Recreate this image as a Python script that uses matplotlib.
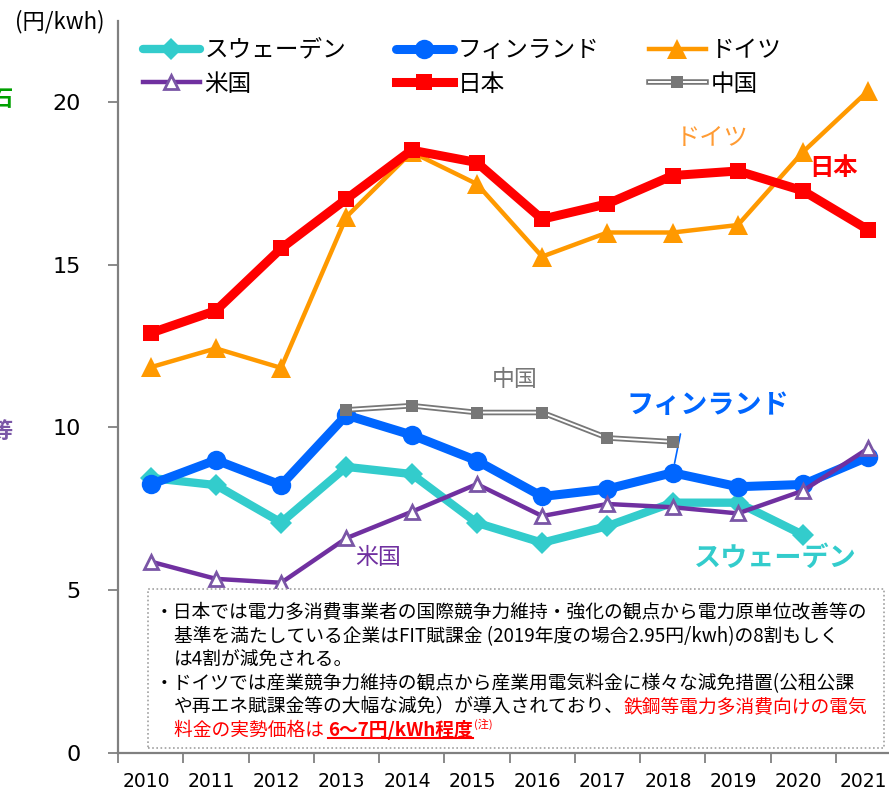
import matplotlib.pyplot as plt
import matplotlib.patches as mpatches
from matplotlib.lines import Line2D
import numpy as np

plt.rcParams['font.family'] = ['Noto Sans CJK JP', 'DejaVu Sans']

years = ['2010', '2011', '2012', '2013', '2014', '2015',
         '2016', '2017', '2018', '2019', '2020', '2021']
nan = np.nan
sweden = [8.45, 8.23, 7.08, 8.79, 8.57, 7.07, 6.46, 6.97, 7.69, 7.69, 6.7, nan]
finland = [8.25, 9.0, 8.23, 10.38, 9.77, 8.98, 7.88, 8.11, 8.61, 8.18, 8.25, 9.1]
germany = [11.85, 12.43, 11.83, 16.47, 18.46, 17.48, 15.25, 15.99, 15.99, 16.22, 18.47, 20.35]
usa = [5.88, 5.35, 5.23, 6.6, 7.41, 8.26, 7.28, 7.65, 7.55, 7.36, 8.06, 9.36]
japan = [12.9, 13.59, 15.5, 17.02, 18.52, 18.14, 16.4, 16.87, 17.74, 17.88, 17.27, 16.07]
china = [nan, nan, nan, 10.54, 10.67, 10.46, 10.46, 9.68, 9.56, nan, nan, nan]

C_SWE = '#33CCCC'
C_FIN = '#0066FF'
C_GER = '#FF9900'
C_USA = '#7030A0'
C_JPN = '#FF0000'
C_CHN = '#777777'

W, H = 889, 795
fig = plt.figure(figsize=(W / 100, H / 100), dpi=100)
# axis runs from x=118px to past the right edge (cropped like the original)
ax = fig.add_axes([118 / W, 42 / H, 783 / W, 732.4 / H])

x = np.arange(len(years))

l_ger, = ax.plot(x, germany, color=C_GER, lw=3.2, marker='^', ms=14, mew=0, zorder=3)
l_jpn, = ax.plot(x, japan, color=C_JPN, lw=6.5, marker='s', ms=11, mew=0, zorder=4)
l_swe, = ax.plot(x, sweden, color=C_SWE, lw=6, marker='D', ms=11, mew=0,
                 solid_capstyle='round', zorder=5)
l_fin, = ax.plot(x, finland, color=C_FIN, lw=6.5, marker='o', ms=14, mew=0,
                 solid_capstyle='round', zorder=6)
l_usa, = ax.plot(x, usa, color=C_USA, lw=3.2, marker='^', ms=10, mfc='white',
                 mec='#7A56A6', mew=2, zorder=7)
l_chn_o, = ax.plot(x, china, color=C_CHN, lw=4, zorder=8)
l_chn_i, = ax.plot(x, china, color='white', lw=1.4, zorder=8)
l_chn_m, = ax.plot(x, china, color=C_CHN, lw=0, marker='s', ms=9, mew=0, zorder=9)

ax.set_xlim(-0.5, len(years) - 0.5)
ax.set_ylim(0, 22.5)
ax.set_yticks([0, 5, 10, 15, 20])
ax.set_xticks(np.arange(len(years) + 1) - 0.5)
ax.set_xticklabels([])
# year labels sit a hair left of the category centre, as in the original
ax.set_xticks(x - 0.07, minor=True)
ax.set_xticklabels(years, minor=True, family='DejaVu Sans', fontsize=13.5)
ax.tick_params(axis='x', which='minor', length=0, pad=14)
ax.tick_params(axis='x', which='major', length=7, color='#808080', width=1.3)
ax.tick_params(axis='y', length=7, color='#808080', width=1.3, pad=20)
for lab in ax.get_yticklabels():
    lab.set_family('DejaVu Sans')
    lab.set_fontsize(16)
for s in ['top', 'right']:
    ax.spines[s].set_visible(False)
for s in ['left', 'bottom']:
    ax.spines[s].set_color('#808080')
    ax.spines[s].set_linewidth(1.6)

# in-plot labels
ax.text(8.6, 18.9, 'ドイツ', color='#FF9B33', fontsize=17.5, ha='center', va='center')
ax.text(10.47, 17.97, '日本', color=C_JPN, fontsize=17.5, weight='bold', ha='center', va='center')
ax.text(5.58, 11.46, '中国', color=C_CHN, fontsize=16.5, ha='center', va='center')
ax.text(8.54, 10.69, 'フィンランド', color=C_FIN, fontsize=19.5, weight='bold', ha='center', va='center')
ax.text(3.49, 6.02, '米国', color=C_USA, fontsize=16.5, ha='center', va='center')
ax.text(9.58, 5.99, 'スウェーデン', color=C_SWE, fontsize=19.5, weight='bold', ha='center', va='center')
ax.annotate('', xy=(8, finland[8]), xytext=(8.12, 9.8),
            arrowprops=dict(arrowstyle='-', color=C_FIN, lw=1.2, shrinkA=0, shrinkB=7))

# legend
handles = [l_swe, l_usa, l_fin, l_jpn, l_ger, (l_chn_o, l_chn_i, l_chn_m)]
labels = ['スウェーデン', '米国', 'フィンランド', '日本', 'ドイツ', '中国']
fig.legend(handles, labels, ncol=3, loc='upper left', bbox_to_anchor=(143 / W, 1 - 39 / H),
           frameon=False, fontsize=17, handlelength=2.4, handletextpad=0.21,
           columnspacing=2.1, labelspacing=0.45, borderpad=0, borderaxespad=0)

fig.text(60 / W, 1 - 22 / H, '(円/kwh)', fontsize=16, ha='center', va='center')
# partially cut characters at the left edge of the slide
fig.text(13 / W, 1 - 100 / H, '石', color='#00A000', fontsize=16, weight='bold', ha='right', va='center')
fig.text(13 / W, 1 - 432 / H, '等', color='#7A56A6', fontsize=16, weight='bold', ha='right', va='center')

# note box
box = mpatches.Rectangle((148 / W, 1 - 748 / H), 736 / W, 159 / H, transform=fig.transFigure,
                         facecolor='white', edgecolor='#A0A0A0', lw=1.2, linestyle=(0, (1, 1.5)),
                         zorder=10)
fig.add_artist(box)

fs = 13.5
ly = [613, 637, 660, 684, 707, 730]
xb = 155 / W
xi = 174 / W
def put(xf, py, s, **kw):
    t = fig.text(xf, 1 - py / H, s, fontsize=kw.pop('size', fs), va='center', ha='left',
                 zorder=11, **kw)
    return t

put(xb, ly[0], '・日本では電力多消費事業者の国際競争力維持・強化の観点から電力原単位改善等の')
put(xi, ly[1], '基準を満たしている企業はFIT賦課金 (2019年度の場合2.95円/kwh)の8割もしく')
put(xi, ly[2], 'は4割が減免される。')
put(xb, ly[3], '・ドイツでは産業競争力維持の観点から産業用電気料金に様々な減免措置(公租公課')
t1 = put(xi, ly[4], 'や再エネ賦課金等の大幅な減免）が導入されており、')

fig.canvas.draw()
r = fig.canvas.get_renderer()
inv = fig.transFigure.inverted()
bb = t1.get_window_extent(r)
put(inv.transform((bb.x1, 0))[0], ly[4], '鉄鋼等電力多消費向けの電気', color=C_JPN)
t2 = put(xi, ly[5], '料金の実勢価格は ', color=C_JPN)
bb = t2.get_window_extent(r)
t3 = put(inv.transform((bb.x1, 0))[0], ly[5], '6～7円/kWh程度', color=C_JPN, weight='bold')
bb3 = t3.get_window_extent(r)
p0 = inv.transform((bb3.x0, bb3.y0 + 2))
p1 = inv.transform((bb3.x1, bb3.y0 + 2))
fig.add_artist(Line2D([p0[0], p1[0]], [p0[1], p1[1]], color=C_JPN, lw=1.5, zorder=11))
put(inv.transform((bb3.x1 + 1, 0))[0], ly[5] - 6, '(注)', color=C_JPN, size=8)

fig.savefig('out.png', dpi=100)
